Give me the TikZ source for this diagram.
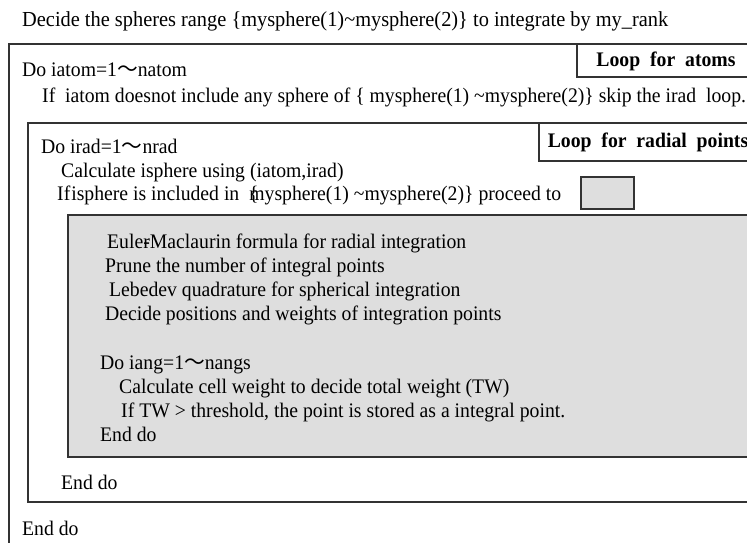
\documentclass[tikz,border=0pt]{standalone}
\usepackage{fontspec}
\setmainfont{Liberation Serif}[FakeStretch=0.952]
\newfontfamily\cjkf{Noto Sans CJK JP}
\newcommand{\wav}{{\cjkf ～}}
\tikzset{
  txt/.style={anchor=base west, inner sep=0pt, font=\fontsize{20.7}{22}\selectfont},
  ttl/.style={anchor=base west, inner sep=0pt, font=\fontsize{21.4}{22}\selectfont},
  lbl/.style={inner sep=0pt, font=\fontsize{20.7}{22}\selectfont\bfseries},
  frame/.style={draw=black!80, line width=1.2pt},
  grayfill/.style={frame, fill=black!13}
}
\begin{document}
\begin{tikzpicture}[x=1pt,y=-1pt]
\useasboundingbox (0,0) rectangle (747,542);
\begin{scope}
\clip (0,0) rectangle (747,542);
% outer loop frame
\draw[frame] (9,545) -- (9,44) -- (760,44);
\draw[frame,fill=white] (577,44) rectangle (760,77);
% inner loop frame
\draw[frame] (28,123) rectangle (760,502);
\draw[frame,fill=white] (539,123) rectangle (760,161);
% gray body
\draw[grayfill] (68,215) rectangle (760,457);
\draw[grayfill] (581,177) rectangle (634,209);
\end{scope}
\node[ttl] (title) at (22,26) {Decide the spheres range \{mysphere(1)\textasciitilde mysphere(2)\} to integrate by my\_rank};
\node[lbl] (la) at (666,61) {Loop\ \ for\ \ atoms};
\node[lbl] (lr) at (648,142) {Loop\ \ for\ \ radial\ \ points};
\node[txt] (t1) at (22,76) {Do iatom=1\wav natom};
\node[txt] (t2) at (42,102) {If\ \ iatom doesnot include any sphere of \{ mysphere(1) \textasciitilde mysphere(2)\} skip the irad\ \ loop.};
\node[txt] (t3) at (41,153) {Do irad=1\wav nrad};
\node[txt] (t4) at (61,177) {Calculate isphere using (iatom,irad)};
\node[txt] (t5) at (57,200) {If\kern1pt isphere is included in \ \{\kern-0.45em mysphere(1) \textasciitilde mysphere(2)\} proceed to};
\node[txt] (t6) at (107,248) {Euler\llap{-}Maclaurin formula for radial integration};
\node[txt] (t7) at (105,272) {Prune the number of integral points};
\node[txt] (t8) at (109,296) {Lebedev quadrature for spherical integration};
\node[txt] (t9) at (105,320) {Decide positions and weights of integration points};
\node[txt] (t10) at (100,369) {Do iang=1\wav nangs};
\node[txt] (t11) at (119,393) {Calculate cell weight to decide total weight (TW)};
\node[txt] (t12) at (121,417) {If TW > threshold, the point is stored as a integral point.};
\node[txt] (t13) at (100,441) {End do};
\node[txt] (t14) at (61,489) {End do};
\node[txt] (t15) at (22,535) {End do};
\end{tikzpicture}
\end{document}
